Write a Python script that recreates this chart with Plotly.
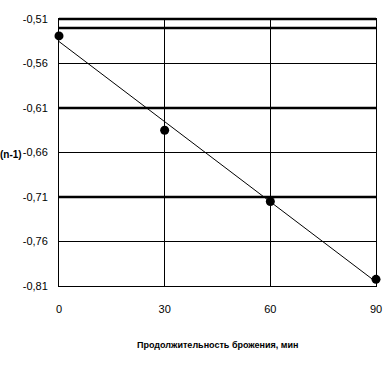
import numpy as np
import plotly.graph_objects as go

# Data
duration_min = [0, 30, 60, 90]
n_minus_1 = [-0.529, -0.635, -0.715, -0.8025]
x_ticks = [0, 30, 60, 90]
y_ticks = [-0.81, -0.76, -0.71, -0.66, -0.61, -0.56, -0.51]
y_tick_labels = ["-0,81", "-0,76", "-0,71", "-0,66", "-0,61", "-0,56", "-0,51"]
thick_lines = [-0.52, -0.61, -0.71]

slope, intercept = np.polyfit(duration_min, n_minus_1, 1)
trend_x = [min(duration_min), max(duration_min)]
trend_y = [slope * v + intercept for v in trend_x]

font_family = "Liberation Sans, Arial, sans-serif"

fig = go.Figure()
fig.add_trace(go.Scatter(x=trend_x, y=trend_y, mode="lines",
                         line=dict(color="black", width=1), showlegend=False,
                         hoverinfo="skip"))
fig.add_trace(go.Scatter(x=duration_min, y=n_minus_1, mode="markers",
                         marker=dict(color="black", size=9, symbol="circle"),
                         cliponaxis=False, showlegend=False))

for yv in thick_lines:
    fig.add_shape(type="line", xref="paper", x0=0, x1=1, yref="y", y0=yv, y1=yv,
                  line=dict(color="black", width=2.5), layer="below")

fig.update_layout(
    width=388, height=372,
    margin=dict(l=59, r=12, t=19, b=86),
    paper_bgcolor="white", plot_bgcolor="white",
    separators=", ",
    font=dict(family=font_family, size=11, color="black"),
    xaxis=dict(range=[0, 90], tickvals=x_ticks, showgrid=True, gridcolor="black",
               gridwidth=1, showline=True, linecolor="black", linewidth=1,
               mirror=True, zeroline=False, ticks="", ticklabelstandoff=13,
               automargin=False,
               tickfont=dict(family=font_family, size=11)),
    yaxis=dict(range=[-0.81, -0.51], tickvals=y_ticks, ticktext=y_tick_labels,
               showgrid=True, gridcolor="black", gridwidth=1, showline=True,
               linecolor="black", linewidth=1, mirror=True, zeroline=False,
               ticks="", ticklabelstandoff=8, automargin=False,
               tickfont=dict(family=font_family, size=11)),
    annotations=[
        dict(text="(n-1)", xref="paper", yref="paper", x=-0.11, y=0.494,
             xanchor="right", yanchor="middle", showarrow=False,
             font=dict(family=font_family, size=10, weight="bold")),
        dict(text="Продолжительность брожения, мин", xref="paper", yref="paper",
             x=0.5, y=0, yshift=-59, xanchor="center", yanchor="middle",
             showarrow=False,
             font=dict(family=font_family, size=9, weight="bold")),
    ],
)
fig.add_shape(type="line", xref="paper", x0=0, x1=1, yref="paper", y0=1, y1=1,
              line=dict(color="black", width=2.5))

fig.write_html("out.html", config={"displayModeBar": False},
               post_script="document.body.style.margin='0';")
